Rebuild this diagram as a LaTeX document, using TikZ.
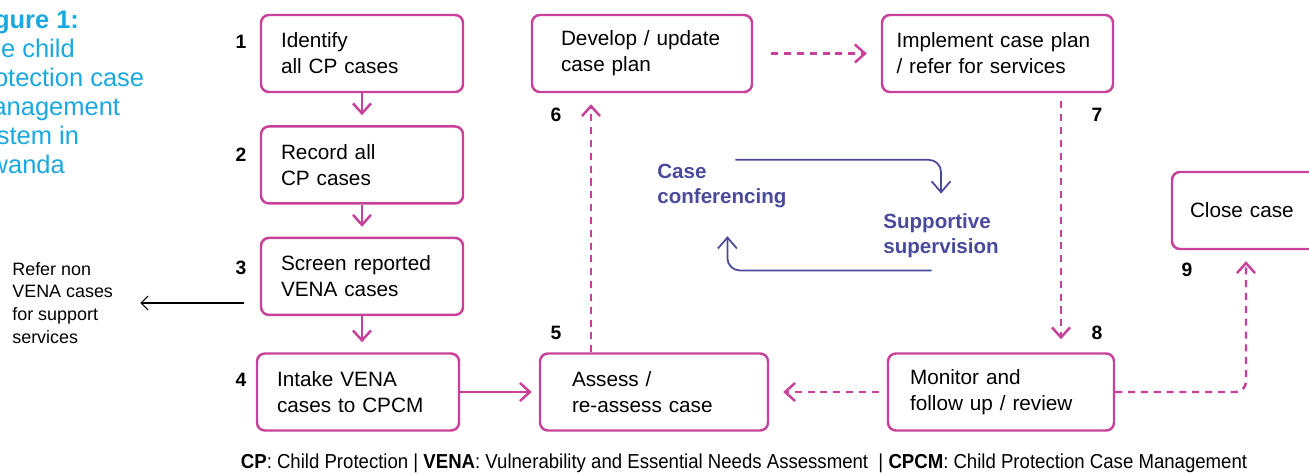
\documentclass[tikz,border=0pt]{standalone}
\usepackage{fontspec}
\setmainfont{Liberation Sans}
\newfontfamily\legendfont[FakeStretch=0.92]{Liberation Sans}
\usetikzlibrary{positioning, arrows.meta}
\definecolor{cmMagenta}{HTML}{C8409A}
\definecolor{cmCyan}{HTML}{1AA8E0}
\definecolor{cmIndigo}{HTML}{4A4A9D}

\begin{document}
\begin{tikzpicture}[
  node distance=0.64cm,
  box/.style={rectangle, draw=cmMagenta, line width=1.4pt, rounded corners=4.5pt,
              minimum height=1.54cm, inner ysep=0pt,
              font=\fontsize{11.8}{14.8}\selectfont, align=left},
  num/.style={font=\fontsize{11}{13}\selectfont\bfseries, inner sep=0pt},
  talk/.style={font=\fontsize{11.7}{14.2}\selectfont\bfseries, text=cmIndigo,
               align=left, inner sep=0pt, anchor=west},
  arr/.style={-{Straight Barb[length=2mm, width=3.6mm]}, line width=1.4pt, draw=cmMagenta},
  dasharr/.style={arr, dash pattern=on 4pt off 3.3pt},
  cycarr/.style={-{Straight Barb[length=2.2mm, width=3.8mm]}, line width=1pt,
                 draw=cmIndigo, rounded corners=7pt},
  plainarr/.style={-{Straight Barb[length=1.4mm, width=2.8mm]}, line width=0.6pt}
]
  \useasboundingbox (0,0) rectangle (26.18,9.46);
  \clip (0,0) rectangle (26.18,9.46);

  % Title
  \node[anchor=north west, inner sep=0pt, text=cmCyan, align=left,
        font=\fontsize{14.5}{16.5}\selectfont] (title) at (-0.58,9.26)
        {\textbf{Figure 1:}\\The child\\protection case\\management\\system in\\Rwanda};

  % Steps
  \node[box, text width=3.24cm, inner xsep=0.4cm] (identify) at (7.24,8.39) {Identify\\all CP cases};
  \node[box, text width=3.24cm, inner xsep=0.4cm, below=of identify] (record) {Record all\\CP cases};
  \node[box, text width=3.24cm, inner xsep=0.4cm, below=of record] (screen) {Screen reported\\VENA cases};
  \node[box, text width=3.24cm, inner xsep=0.4cm] (intake) at (7.16,1.62) {Intake VENA\\cases to CPCM};
  \node[box, text width=3.28cm, inner xsep=0.64cm] (assess) at (13.08,1.62) {Assess /\\re-assess case};
  \node[box, text width=3.24cm, inner xsep=0.58cm] (develop) at (12.84,8.39) {Develop / update\\case plan};
  \node[box, text width=4.04cm, inner xsep=0.29cm] (implement) at (19.95,8.39) {Implement case plan\\/ refer for services};
  \node[box, text width=3.64cm, inner xsep=0.44cm] (monitor) at (20.02,1.62) {Monitor and\\follow up / review};
  \node[box, text width=2.24cm, inner xsep=0.36cm] (close) at (24.92,5.25) {Close case};

  % Step numbers
  \node[num] (n1) at (4.82,8.62) {1};
  \node[num] (n2) at (4.82,6.36) {2};
  \node[num] (n3) at (4.82,4.10) {3};
  \node[num] (n4) at (4.82,1.86) {4};
  \node[num] (n5) at (11.12,2.80) {5};
  \node[num] (n6) at (11.12,7.16) {6};
  \node[num] (n7) at (21.94,7.16) {7};
  \node[num] (n8) at (21.94,2.80) {8};
  \node[num] (n9) at (23.74,4.06) {9};

  % Side note
  \node[anchor=west, inner sep=0pt, align=left, font=\fontsize{10.2}{13}\selectfont]
        (refer) at (0.24,3.40) {Refer non\\VENA cases\\for support\\services};

  % Centre loop
  \node[talk] (confer) at (13.14,5.74) {Case\\conferencing};
  \node[talk] (supervise) at (17.66,4.74) {Supportive\\supervision};

  % Legend
  \node[inner sep=0pt, font=\legendfont\fontsize{11.5}{13}\selectfont] (legend) at (14.88,0.2)
        {\textbf{CP}: Child Protection | \textbf{VENA}: Vulnerability and Essential Needs Assessment\ \ | \textbf{CPCM}: Child Protection Case Management};

  % Arrows
  \coordinate (upx) at (11.82,0);
  \coordinate (dnx) at (21.22,0);
  \draw[arr, shorten >=0.2cm] (identify.south) -- (record.north);
  \draw[arr, shorten >=0.2cm] (record.south) -- (screen.north);
  \draw[arr, shorten >=0.2cm] (screen.south) -- (intake.north -| screen.south);
  \draw[arr, shorten >=0.14cm] (intake.east) -- (assess.west);
  \draw[plainarr] ([xshift=-0.32cm]screen.west |- refer.east) -- ([xshift=0.54cm]refer.east);
  \draw[dasharr] (assess.north -| upx) -- ([yshift=-0.22cm]develop.south -| upx);
  \draw[dasharr, shorten <=0.36cm, shorten >=0.28cm] (develop.east) -- (implement.west);
  \draw[dasharr] ([yshift=-0.16cm]implement.south -| dnx) -- ([yshift=0.26cm]monitor.north -| dnx);
  \draw[dasharr] ([xshift=-0.16cm]monitor.west) -- ([xshift=0.28cm]assess.east);
  \draw[dasharr, rounded corners=6pt] (monitor.east) -| ([yshift=-0.22cm]close.south);
  \draw[cycarr] ([xshift=0.27cm, yshift=0.08cm]confer.north) -| ([yshift=0.4cm]supervise.north);
  \draw[cycarr] ([xshift=-0.19cm, yshift=-0.24cm]supervise.south) -| ([xshift=0.11cm, yshift=-0.56cm]confer.south);
\end{tikzpicture}
\end{document}
